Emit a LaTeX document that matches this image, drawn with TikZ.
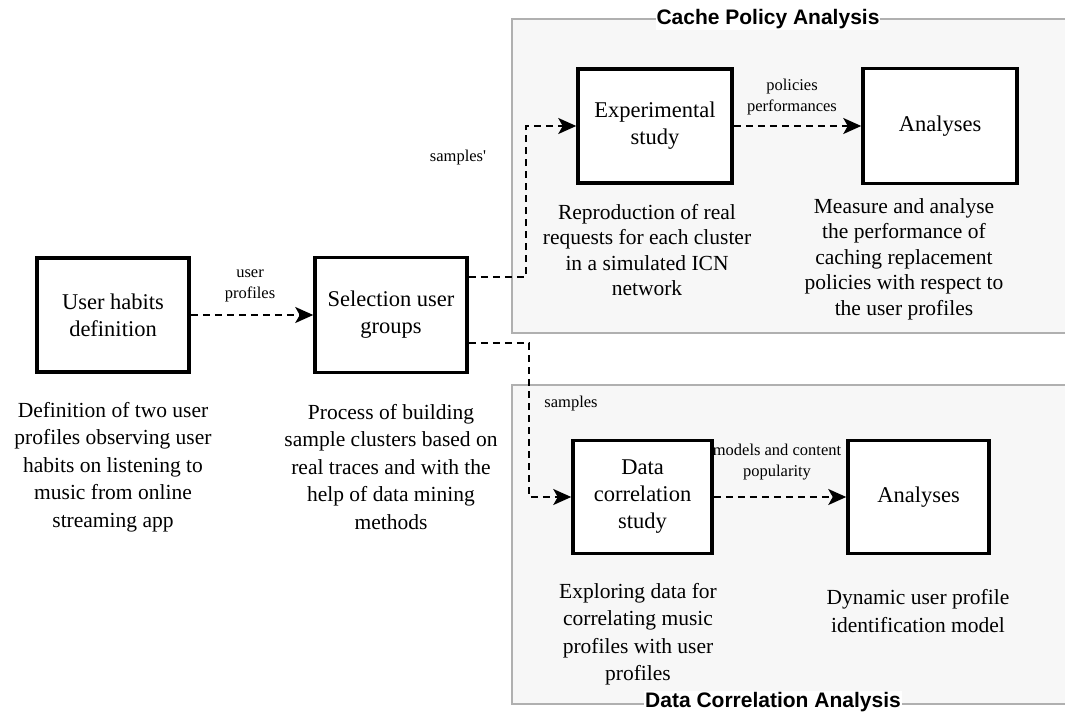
\documentclass[tikz,border=0pt]{standalone}
\usepackage{fontspec}
\setmainfont{Liberation Serif}
\newfontfamily\rawserif{Liberation Serif}
\newfontfamily\titlefont{Liberation Sans}
\usetikzlibrary{arrows.meta}

\definecolor{groupfill}{RGB}{247,247,247}
\definecolor{groupline}{RGB}{176,176,176}

\tikzset{
  stagebox/.style={draw=black, line width=3.5pt, fill=white, align=center,
    font=\fontsize{22.5}{27}\selectfont, inner sep=2pt},
  desc/.style={align=center, font=\fontsize{21.5}{27.5}\selectfont, inner sep=0pt},
  desctop/.style={desc, font=\fontsize{21.5}{25.5}\selectfont},
  flowlabel/.style={align=center, font=\rawserif\fontsize{16.5}{21}\selectfont, inner sep=0pt},
  grouptitle/.style={fill=white, inner sep=1pt, font=\titlefont\bfseries\fontsize{21}{24}\selectfont},
  groupframe/.style={draw=groupline, line width=1.5pt},
  conn/.style={draw=black, line width=2pt, dash pattern=on 7pt off 5pt,
    -{Stealth[length=18pt, width=16pt, inset=4.5pt]}},
}

\begin{document}
\begin{tikzpicture}[x=1pt, y=-1pt]
\useasboundingbox (0,0) rectangle (1065,718);

% group panels (they run on past the right edge)
\fill[groupfill] (512,19) rectangle (1065,333);
\draw[groupframe] (1065,19) -- (512,19) -- (512,333) -- (1065,333);
\fill[groupfill] (512,385) rectangle (1065,704);
\draw[groupframe] (1065,385) -- (512,385) -- (512,704) -- (1065,704);

% stages
\node[stagebox, minimum width=152pt, minimum height=114pt] (habits) at (113,315) {User habits\\definition};
\node[stagebox, minimum width=152pt, minimum height=115pt] (sel) at (391,315) {Selection user\\groups};
\node[stagebox, minimum width=154pt, minimum height=114pt] (exp) at (655,126) {Experimental\\study};
\node[stagebox, minimum width=154pt, minimum height=115pt] (antop) at (940,126) {Analyses};
\node[stagebox, minimum width=139pt, minimum height=113pt] (dc) at (642.5,497) {Data\\correlation\\study};
\node[stagebox, minimum width=141pt, minimum height=113pt] (anbot) at (918.5,497) {Analyses};

% connectors
\draw[conn] (habits.east) -- (sel.west);
\draw[conn] ([yshift=38pt]sel.east) -- ++(57pt,0) |- (exp.west);
\draw[conn] ([yshift=-28pt]sel.east) -- ++(60pt,0) |- (dc.west);
\draw[conn] (exp.east) -- (antop.west);
\draw[conn] (dc.east) -- (anbot.west);

% connector labels
\node[flowlabel] (lprof) at (250,286) {user\\profiles};
\node[flowlabel] (lpol) at (792,97) {policies\\performances};
\node[flowlabel] (lsamp1) at (458,158) {samples'};
\node[flowlabel] (lsamp2) at (571,404) {samples};
\node[flowlabel] (lmod) at (777,462) {models and content\\popularity};

% stage descriptions
\node[desc] (d1) at (113,467) {Definition of two user\\profiles observing user\\habits on listening to\\music from online\\streaming app};
\node[desc] (d2) at (391,467) {Process of building\\sample clusters based on\\real traces and with the\\help of data mining\\methods};
\node[desctop] (d3) at (647,250) {Reproduction of real\\requests for each cluster\\in a simulated ICN\\network};
\node[desctop] (d4) at (904,259) {Measure and analyse\\the performance of\\caching replacement\\policies with respect to\\the user profiles};
\node[desc] (d5) at (638,634) {Exploring data for\\correlating music\\profiles with user\\profiles};
\node[desc] (d6) at (918,611) {Dynamic user profile\\identification model};

% panel titles
\node[grouptitle] (t1) at (768,19) {Cache Policy Analysis};
\node[grouptitle] (t2) at (773,702) {Data Correlation Analysis};
\end{tikzpicture}
\end{document}
